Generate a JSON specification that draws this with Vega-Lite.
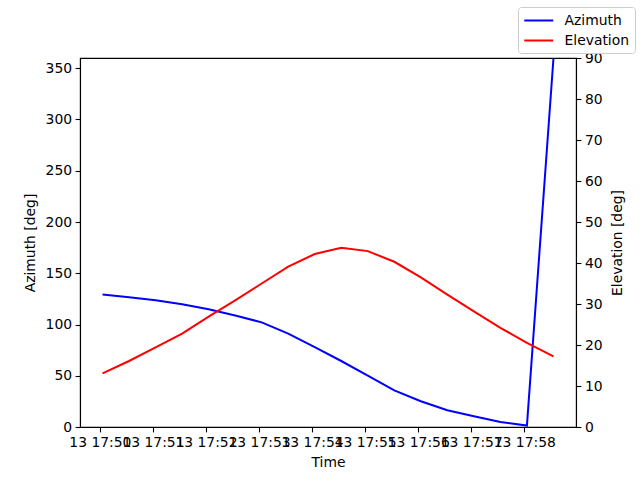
{
  "$schema": "https://vega.github.io/schema/vega-lite/v6.json",
  "width": 496,
  "height": 369,
  "autosize": {"type": "none"},
  "padding": {"left": 80, "top": 58, "right": 64, "bottom": 53},
  "background": "white",
  "config": {
    "font": "DejaVu Sans",
    "view": {"stroke": "black", "strokeWidth": 1.1},
    "axis": {
      "labelFont": "DejaVu Sans",
      "labelFontSize": 13.9,
      "labelColor": "black",
      "titleFont": "DejaVu Sans",
      "titleFontSize": 13.9,
      "titleFontWeight": "normal",
      "titleColor": "black",
      "domainColor": "black",
      "domainWidth": 1.1,
      "tickColor": "black",
      "tickWidth": 1.1,
      "tickSize": 4.9,
      "labelPadding": 3.5,
      "grid": false,
      "labelOverlap": false,
      "labelFlush": false,
      "labelBound": false
    },
    "legend": {
      "labelFont": "DejaVu Sans",
      "labelFontSize": 13.9,
      "labelColor": "black",
      "symbolType": "M-1,0H3",
      "symbolStrokeWidth": 2,
      "symbolSize": 210,
      "labelOffset": 24.5,
      "padding": 5,
      "rowPadding": 4,
      "strokeColor": "#cccccc",
      "fillColor": "white",
      "cornerRadius": 3
    }
  },
  "data": {
    "values": [
      {"time": "2024-01-13T17:50:03Z", "azimuth": 129.2, "elevation": 13.1},
      {"time": "2024-01-13T17:50:33Z", "azimuth": 126.5, "elevation": 16.1},
      {"time": "2024-01-13T17:51:03Z", "azimuth": 123.6, "elevation": 19.4},
      {"time": "2024-01-13T17:51:33Z", "azimuth": 119.7, "elevation": 22.8},
      {"time": "2024-01-13T17:52:03Z", "azimuth": 114.8, "elevation": 26.9},
      {"time": "2024-01-13T17:52:33Z", "azimuth": 108.7, "elevation": 30.9},
      {"time": "2024-01-13T17:53:03Z", "azimuth": 102.1, "elevation": 35.0},
      {"time": "2024-01-13T17:53:33Z", "azimuth": 91.1, "elevation": 39.1},
      {"time": "2024-01-13T17:54:03Z", "azimuth": 78.0, "elevation": 42.2},
      {"time": "2024-01-13T17:54:33Z", "azimuth": 64.4, "elevation": 43.7},
      {"time": "2024-01-13T17:55:03Z", "azimuth": 50.1, "elevation": 42.9},
      {"time": "2024-01-13T17:55:33Z", "azimuth": 35.8, "elevation": 40.3},
      {"time": "2024-01-13T17:56:03Z", "azimuth": 25.1, "elevation": 36.5},
      {"time": "2024-01-13T17:56:33Z", "azimuth": 16.3, "elevation": 32.3},
      {"time": "2024-01-13T17:57:03Z", "azimuth": 10.4, "elevation": 28.2},
      {"time": "2024-01-13T17:57:33Z", "azimuth": 4.9, "elevation": 24.2},
      {"time": "2024-01-13T17:58:03Z", "azimuth": 1.4, "elevation": 20.5},
      {"time": "2024-01-13T17:58:33Z", "azimuth": 359.5, "elevation": 17.2}
    ]
  },
  "encoding": {
    "x": {
      "field": "time",
      "type": "temporal",
      "title": "Time",
      "scale": {
        "type": "utc",
        "domain": [
          {"year": 2024, "month": 1, "date": 13, "hours": 17, "minutes": 49, "seconds": 37, "milliseconds": 500, "utc": true},
          {"year": 2024, "month": 1, "date": 13, "hours": 17, "minutes": 58, "seconds": 58, "milliseconds": 500, "utc": true}
        ]
      },
      "axis": {
        "format": "%d %H:%M",
        "titlePadding": 6,
        "values": [
          {"year": 2024, "month": 1, "date": 13, "hours": 17, "minutes": 50, "utc": true},
          {"year": 2024, "month": 1, "date": 13, "hours": 17, "minutes": 51, "utc": true},
          {"year": 2024, "month": 1, "date": 13, "hours": 17, "minutes": 52, "utc": true},
          {"year": 2024, "month": 1, "date": 13, "hours": 17, "minutes": 53, "utc": true},
          {"year": 2024, "month": 1, "date": 13, "hours": 17, "minutes": 54, "utc": true},
          {"year": 2024, "month": 1, "date": 13, "hours": 17, "minutes": 55, "utc": true},
          {"year": 2024, "month": 1, "date": 13, "hours": 17, "minutes": 56, "utc": true},
          {"year": 2024, "month": 1, "date": 13, "hours": 17, "minutes": 57, "utc": true},
          {"year": 2024, "month": 1, "date": 13, "hours": 17, "minutes": 58, "utc": true}
        ]
      }
    }
  },
  "layer": [
    {
      "mark": {"type": "line", "strokeWidth": 2, "clip": false},
      "encoding": {
        "y": {
          "field": "azimuth",
          "type": "quantitative",
          "title": "Azimuth [deg]",
          "scale": {"domain": [0, 360], "nice": false, "zero": false},
          "axis": {"orient": "left", "values": [0, 50, 100, 150, 200, 250, 300, 350], "titlePadding": 8}
        },
        "color": {
          "datum": "Azimuth",
          "type": "nominal",
          "scale": {"domain": ["Azimuth", "Elevation"], "range": ["#0000ff", "#ff0000"]},
          "legend": {"title": null, "orient": "none", "legendX": 438, "legendY": -51}
        }
      }
    },
    {
      "mark": {"type": "line", "strokeWidth": 2, "clip": false},
      "encoding": {
        "y": {
          "field": "elevation",
          "type": "quantitative",
          "title": "Elevation [deg]",
          "scale": {"domain": [0, 90], "nice": false, "zero": false},
          "axis": {"orient": "right", "values": [0, 10, 20, 30, 40, 50, 60, 70, 80, 90], "titlePadding": 8, "titleAngle": -90, "titleBaseline": "top"}
        },
        "color": {"datum": "Elevation", "type": "nominal"}
      }
    }
  ],
  "resolve": {"scale": {"y": "independent"}}
}
